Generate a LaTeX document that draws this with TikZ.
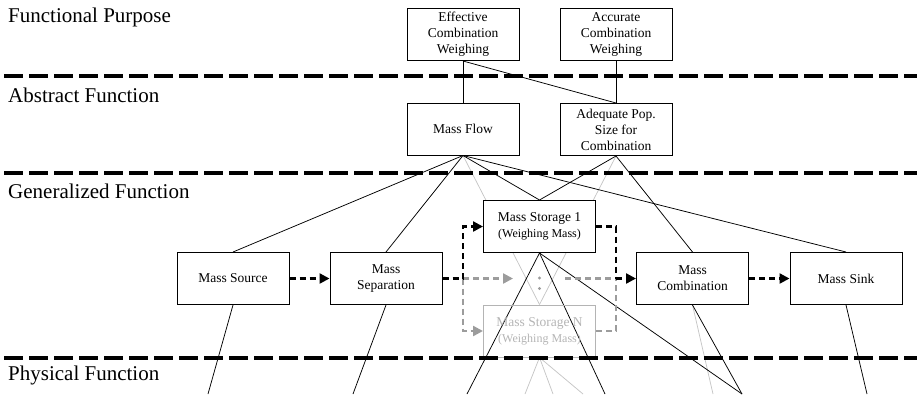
\documentclass[tikz,border=0pt]{standalone}
\usepackage{fontspec}
\setmainfont{Liberation Serif}
\usepackage{tikz}
\usetikzlibrary{arrows.meta}
\pgfdeclarelayer{background}
\pgfsetlayers{background,main}
\definecolor{ghost}{HTML}{B4B4B4}
\definecolor{ghostline}{HTML}{C6C6C6}
\definecolor{ghostflow}{HTML}{9C9C9C}

\tikzset{
  level/.style={anchor=base west, inner sep=0pt, font=\fontsize{21}{25}\selectfont},
  fbox/.style={draw, fill=white, line width=1pt, minimum width=112pt, minimum height=52pt,
    align=center, inner sep=1pt, font=\fontsize{13.5}{16}\selectfont},
  ghostbox/.style={fbox, fill=none, draw=ghost, text=ghost},
  link/.style={line width=0.75pt},
  ghostlink/.style={line width=0.75pt, draw=ghostline},
  flow/.style={line width=2.3pt, dash pattern=on 6pt off 4pt},
  gflow/.style={flow, draw=ghostflow},
  flowtip/.style={-{Triangle[length=10pt,width=10pt]}},
  separator/.style={line width=3.3pt, dash pattern=on 19pt off 6pt}
}

\begin{document}
\begin{tikzpicture}[x=1pt,y=-1pt]
  \useasboundingbox (0,0) rectangle (917,394);
  % Levels
  \node[level] (lfp) at (8,22) {Functional Purpose};
  \node[level] (laf) at (8,102) {Abstract Function};
  \node[level] (lgf) at (8,198) {Generalized Function};
  \node[level] (lpf) at (8,380) {Physical Function};
  % Functions
  \node[fbox] (ecw) at (463,34.5) {Effective\\Combination\\Weighing};
  \node[fbox] (acw) at (616,34.5) {Accurate\\Combination\\Weighing};
  \node[fbox] (mflow) at (463,129) {Mass Flow};
  \node[fbox] (adq) at (616,129.5) {Adequate Pop.\\Size for\\Combination};
  \node[fbox] (src) at (233,278.5) {Mass Source};
  \node[fbox] (sep) at (386,278.5) {Mass\\Separation};
  \node[fbox] (st1) at (539.5,226.5) {Mass Storage 1\\{\fontsize{12}{14}\selectfont (Weighing Mass)}};
  \node[ghostbox] (stN) at (539.5,331) {Mass Storage N\\{\fontsize{12}{14}\selectfont (Weighing Mass)}};
  \node[fbox] (comb) at (692.5,278.5) {Mass\\Combination};
  \node[fbox] (sink) at (846,278.5) {Mass Sink};
  \fill[ghostflow] (539.5,278) circle (1.7pt) (539.5,288.5) circle (1.7pt);
  % Free ends towards the physical level
  \coordinate (ps1) at (208,394);
  \coordinate (ps2) at (353,394);
  \coordinate (ps3) at (467,394);
  \coordinate (ps4) at (605,394);
  \coordinate (ps5) at (742,394);
  \coordinate (ps6) at (867,394);
  \coordinate (pg1) at (525,394);
  \coordinate (pg2) at (553,394);
  \coordinate (pg3) at (583,394);
  \coordinate (pg4) at (713,394);
  % Means-end links
  \begin{pgfonlayer}{background}
    \draw[ghostlink] (mflow.south) -- (stN.north);
    \draw[ghostlink] (adq.south) -- (stN.north);
    \draw[ghostlink] (stN.south) -- (pg1);
    \draw[ghostlink] (stN.south) -- (pg2);
    \draw[ghostlink] (stN.south) -- (pg3);
    \draw[ghostlink] (comb.south) -- (pg4);
    \draw[link] (ecw.south) -- (mflow.north);
    \draw[link] (ecw.south) -- (adq.north);
    \draw[link] (acw.south) -- (adq.north);
    \draw[link] (mflow.south) -- (src.north);
    \draw[link] (mflow.south) -- (sep.north);
    \draw[link] (mflow.south) -- (st1.north);
    \draw[link] (mflow.south) -- (sink.north);
    \draw[link] (adq.south) -- (st1.north);
    \draw[link] (adq.south) -- (comb.north);
    \draw[link] (src.south) -- (ps1);
    \draw[link] (sep.south) -- (ps2);
    \draw[link] (st1.south) -- (ps3);
    \draw[link] (st1.south) -- (ps4);
    \draw[link] (st1.south) -- (ps5);
    \draw[link] (comb.south) -- (ps5);
    \draw[link] (sink.south) -- (ps6);
  \end{pgfonlayer}
  % Mass flow
  \coordinate (jl) at (463,278.5);
  \coordinate (jr) at (616,278.5);
  \coordinate (gin) at (513,278.5);
  \coordinate (gout) at (565,278.5);
  \draw[gflow,flowtip] (jl) |- (stN.west);
  \draw[gflow,flowtip] (jl) -- (gin);
  \draw[gflow] (stN.east) -| (jr);
  \draw[gflow] (gout) -- (jr);
  \draw[flow,flowtip] (src.east) -- (sep.west);
  \draw[flow] (sep.east) -- (jl);
  \draw[flow,flowtip] (jl) |- (st1.west);
  \draw[flow] (st1.east) -| (jr);
  \draw[flow,flowtip] (jr) -- (comb.west);
  \draw[flow,flowtip] (comb.east) -- (sink.west);
  % Level boundaries
  \coordinate (b1l) at (4,76);  \coordinate (b1r) at (917,76);
  \coordinate (b2l) at (4,173); \coordinate (b2r) at (917,173);
  \coordinate (b3l) at (4,358); \coordinate (b3r) at (917,358);
  \draw[separator] (b1l) -- (b1r);
  \draw[separator] (b2l) -- (b2r);
  \draw[separator] (b3l) -- (b3r);
\end{tikzpicture}
\end{document}
